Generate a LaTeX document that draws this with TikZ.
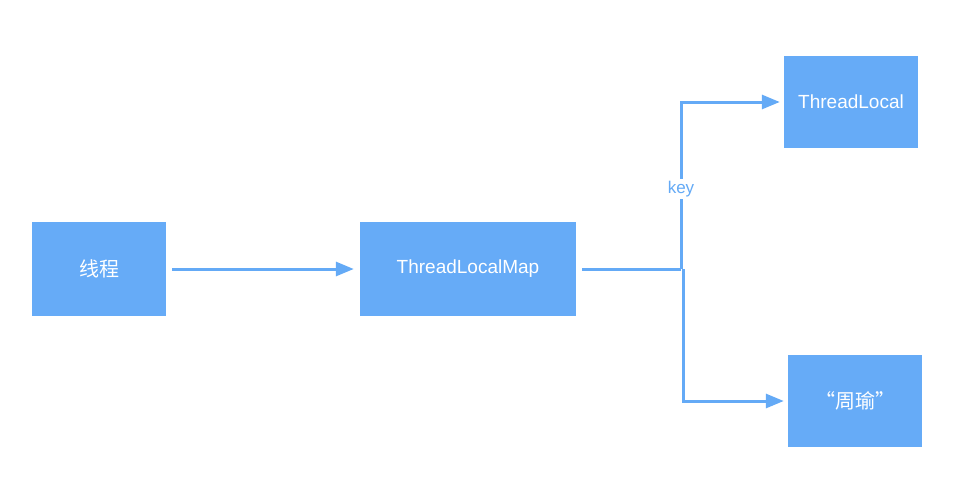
\documentclass[tikz,border=0pt]{standalone}
\usepackage{fontspec}
\setmainfont{Liberation Sans}
\newfontfamily\cjk{Noto Sans CJK SC}
\usetikzlibrary{arrows.meta}
\definecolor{boxblue}{HTML}{66ABF7}
\definecolor{lineblue}{HTML}{64AAF6}
\begin{document}
\begin{tikzpicture}[x=1pt,y=-1pt,
  box/.style={fill=boxblue, draw=none, text=white, font=\fontsize{19}{21}\selectfont, inner sep=0pt},
  conn/.style={draw=lineblue, line width=3pt, -{Triangle[length=18pt,width=14pt]}},
  plain/.style={draw=lineblue, line width=3pt},
  lbl/.style={fill=white, text=lineblue, font=\fontsize{17}{19}\selectfont, inner sep=2pt}]
\useasboundingbox (0,0) rectangle (965,479);
\node[box, minimum width=134pt, minimum height=94pt] (t) at (99,269) {\cjk\fontsize{20}{22}\selectfont 线程};
\node[box, minimum width=216pt, minimum height=94pt] (m) at (468,269) {ThreadLocalMap};
\node[box, minimum width=134pt, minimum height=92pt] (tl) at (851,102) {ThreadLocal};
\node[box, minimum width=134pt, minimum height=92pt] (zy) at (855,401) {\cjk\fontsize{20}{22}\selectfont “周瑜”};
\coordinate (j) at (681,269);
\draw[conn, shorten <=6pt, shorten >=6pt] (t) -- (m);
\draw[plain, shorten <=6pt] (m.east) -- (j);
\draw[conn, shorten >=4pt] (j) |- node[lbl, pos=0.24] {key} (tl.west);
\draw[conn, shorten >=4pt] ([xshift=2pt]j) |- (zy.west);
\end{tikzpicture}
\end{document}
